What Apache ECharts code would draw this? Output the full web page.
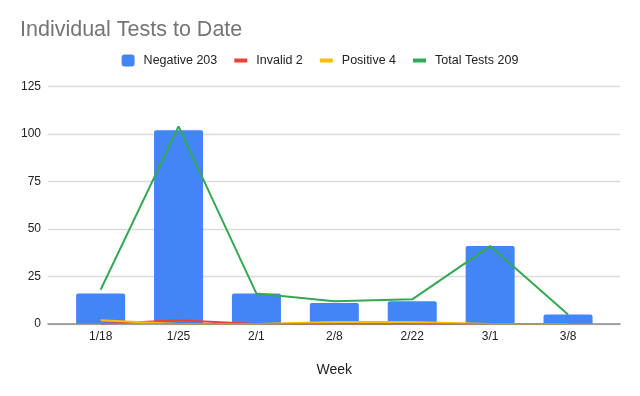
<!DOCTYPE html>
<html>
<head>
<meta charset="utf-8">
<script src="https://cdn.jsdelivr.net/npm/echarts@6/dist/echarts.min.js"></script>
<style>
html,body{margin:0;padding:0;background:#fff;}
#chart{width:640px;height:396px;}
</style>
</head>
<body>
<div id="chart"></div>
<script>
const categories = ['1/18', '1/25', '2/1', '2/8', '2/22', '3/1', '3/8'];
const negative = [16, 102, 16, 11, 12, 41, 5];
const invalid = [0, 2, 0, 0, 0, 0, 0];
const positive = [2, 0, 0, 1, 1, 0, 0];
const totalTests = [18, 104, 16, 12, 13, 41, 5];
const yTicks = [0, 25, 50, 75, 100, 125];

const FONT = '"Liberation Sans", Arial, sans-serif';
const chart = echarts.init(document.getElementById('chart'), null, {renderer: 'canvas'});
const lineIcon = 'path://M0,0 H13 V4 H0 Z';

chart.setOption({
  animation: false,
  backgroundColor: '#ffffff',
  textStyle: {fontFamily: FONT},
  title: {
    text: 'Individual Tests to Date',
    left: 15, top: 14, padding: 5,
    textStyle: {fontFamily: FONT, fontSize: 21.5, fontWeight: 'normal', color: '#757575'}
  },
  legend: {
    top: 49, left: 'center', padding: 5,
    itemWidth: 13, itemHeight: 12, itemGap: 17,
    symbolKeepAspect: true,
    textStyle: {fontFamily: FONT, fontSize: 12.5, color: '#222', padding: [0, 0, 0, 4]},
    data: [
      {name: 'Negative 203', icon: 'roundRect'},
      {name: 'Invalid 2', icon: lineIcon},
      {name: 'Positive 4', icon: lineIcon},
      {name: 'Total Tests 209', icon: lineIcon}
    ]
  },
  grid: [
    {left: 48, right: 20, top: 86.5, bottom: 72},
    {left: 61.7, right: 33, top: 86.5, bottom: 72}
  ],
  xAxis: [
    {gridIndex: 0, type: 'category', data: [''],
     axisLine: {show: true, lineStyle: {color: '#8a8a8a', width: 1.5}},
     axisTick: {show: false}, axisLabel: {show: false}, z: 5},
    {gridIndex: 1, type: 'category', data: categories,
     axisLine: {show: false}, axisTick: {show: false},
     axisLabel: {fontFamily: FONT, fontSize: 12, color: '#222', margin: 7},
     name: 'Week', nameLocation: 'middle', nameGap: 39,
     nameTextStyle: {fontFamily: FONT, fontSize: 14, color: '#222'}}
  ],
  yAxis: [
    {gridIndex: 0, type: 'value', min: yTicks[0], max: yTicks[yTicks.length - 1], interval: 25,
     axisLine: {show: false}, axisTick: {show: false},
     axisLabel: {fontFamily: FONT, fontSize: 12, color: '#222', margin: 7},
     splitLine: {show: true, lineStyle: {color: '#dcdcdc', width: 1.3}}},
    {gridIndex: 1, type: 'value', min: yTicks[0], max: yTicks[yTicks.length - 1], interval: 25,
     show: false, splitLine: {show: false}}
  ],
  series: [
    {name: 'Negative 203', type: 'bar', xAxisIndex: 1, yAxisIndex: 1, data: negative,
     barWidth: 49, itemStyle: {color: '#4285F4', borderRadius: [2, 2, 0, 0]}, z: 2},
    {name: 'Invalid 2', type: 'line', xAxisIndex: 1, yAxisIndex: 1, data: invalid,
     symbol: 'none', lineStyle: {color: '#EA4335', width: 2}, itemStyle: {color: '#EA4335'}, z: 3},
    {name: 'Positive 4', type: 'line', xAxisIndex: 1, yAxisIndex: 1, data: positive,
     symbol: 'none', lineStyle: {color: '#FBBC04', width: 2}, itemStyle: {color: '#FBBC04'}, z: 4},
    {name: 'Total Tests 209', type: 'line', xAxisIndex: 1, yAxisIndex: 1, data: totalTests,
     symbol: 'none', lineStyle: {color: '#34A853', width: 2}, itemStyle: {color: '#34A853'}, z: 6}
  ]
});
</script>
</body>
</html>
